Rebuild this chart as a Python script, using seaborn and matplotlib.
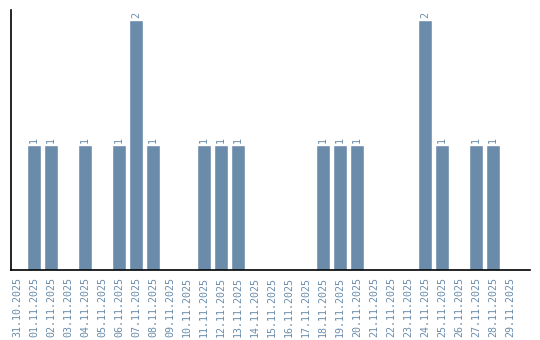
import matplotlib
matplotlib.use("Agg")
import matplotlib.pyplot as plt
import seaborn as sns
import pandas as pd

dates = ["31.10.2025", "01.11.2025", "02.11.2025", "03.11.2025", "04.11.2025",
         "05.11.2025", "06.11.2025", "07.11.2025", "08.11.2025", "09.11.2025",
         "10.11.2025", "11.11.2025", "12.11.2025", "13.11.2025", "14.11.2025",
         "15.11.2025", "16.11.2025", "17.11.2025", "18.11.2025", "19.11.2025",
         "20.11.2025", "21.11.2025", "22.11.2025", "23.11.2025", "24.11.2025",
         "25.11.2025", "26.11.2025", "27.11.2025", "28.11.2025", "29.11.2025"]
counts = [0, 1, 1, 0, 1, 0, 1, 2, 1, 0,
          0, 1, 1, 1, 0, 0, 0, 0, 1, 1,
          1, 0, 0, 0, 2, 1, 0, 1, 1, 0]

df = pd.DataFrame({"date": dates, "count": counts})

sns.set_style("white")
color = "#6a8caa"

fig = plt.figure(figsize=(5.4, 3.4), dpi=100)
ax = fig.add_axes([11/540, 70/340, 519/540, 260/340])
sns.barplot(data=df, x="date", y="count", color=color, saturation=1,
            width=0.82, ax=ax, order=dates)

for i, v in enumerate(counts):
    if v > 0:
        ax.text(i, v + 0.02, str(v), rotation=90, ha="center", va="bottom",
                color=color, fontsize=7.2, family="DejaVu Sans Mono")

ax.set_xlim(-0.35, 30.18)
ax.set_ylim(0, 2.08)
ax.set_xlabel("")
ax.set_ylabel("")
ax.set_yticks([])
ax.tick_params(axis="x", length=0, pad=5)
for lab in ax.get_xticklabels():
    lab.set_rotation(90)
    lab.set_color(color)
    lab.set_fontsize(7.2)
    lab.set_family("DejaVu Sans Mono")
for s in ["top", "right"]:
    ax.spines[s].set_visible(False)
for s in ["left", "bottom"]:
    ax.spines[s].set_color("black")
    ax.spines[s].set_linewidth(1.2)

fig.savefig("out.png", dpi=100)
